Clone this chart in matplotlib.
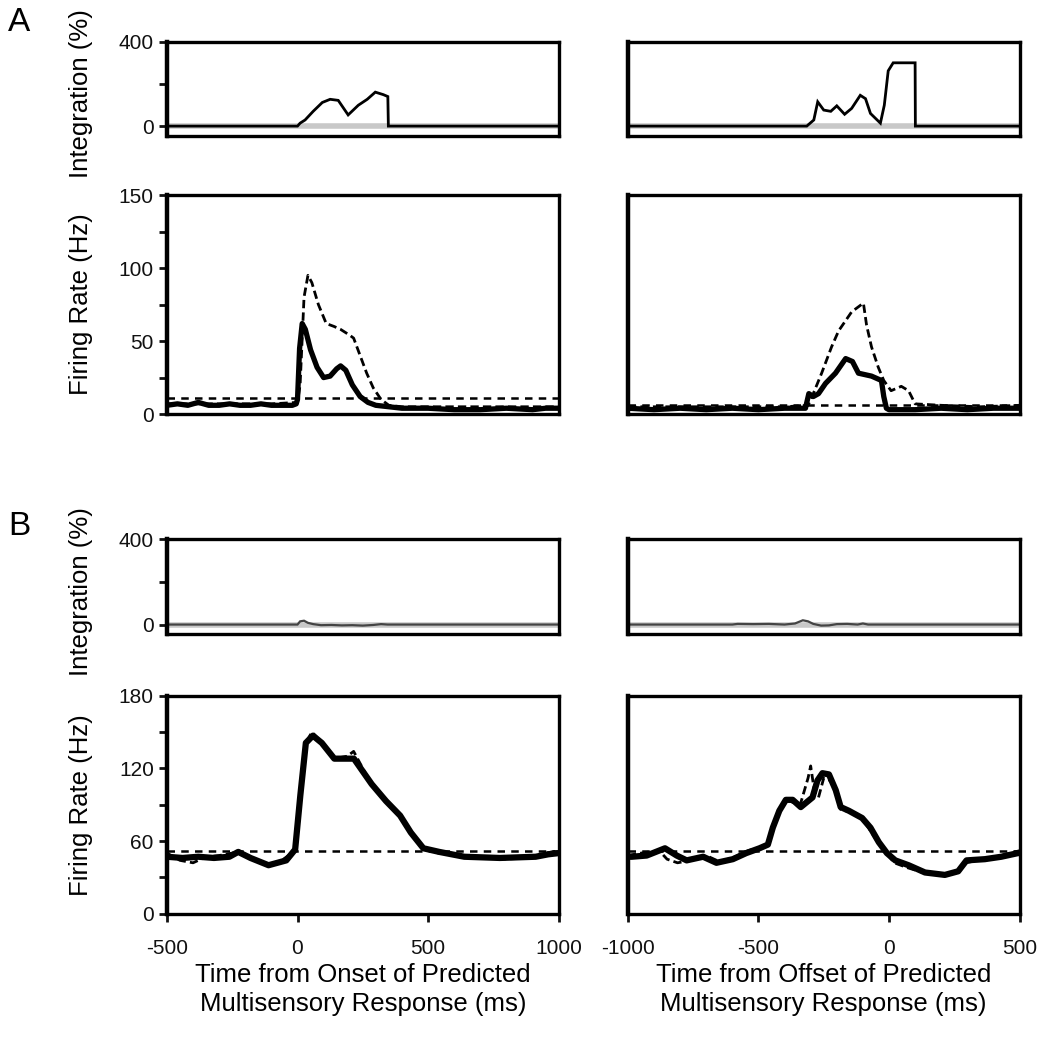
import matplotlib
matplotlib.use('Agg')
import matplotlib.pyplot as plt

plt.rcParams['font.family'] = ['Liberation Sans', 'DejaVu Sans']

# ---- data ----
# A, onset aligned (left column)
a_on_int_t = [-500, 0, 10, 29, 60, 95, 125, 156, 194, 233, 267, 298, 329, 346, 348, 1000]
a_on_int_v = [0, 0, 14, 29, 70, 112, 127, 122, 53, 99, 127, 161, 149, 140, 0, 0]

a_on_solid_t = [-500, -460, -420, -380, -340, -300, -260, -220, -180, -140, -100, -60, -20, -5, 0, 8,
                18, 30, 50, 75, 100, 125, 150, 165, 185, 210, 240, 270, 300, 350, 400, 500, 600,
                700, 800, 900, 950, 1000]
a_on_solid_v = [6, 7, 6, 8, 6, 6, 7, 6, 6, 7, 6, 6, 6, 7, 10, 45,
                62, 58, 44, 32, 25, 26, 31, 33, 30, 20, 12, 8, 6, 5, 4, 4, 3,
                3, 4, 3, 4, 4]
a_on_dash_t = [-500, -300, -100, 0, 10, 25, 40, 55, 80, 110, 140, 165, 200, 215, 240, 265,
               290, 320, 350, 400, 600, 800, 1000]
a_on_dash_v = [7, 7, 7, 8, 20, 80, 95, 90, 75, 62, 60, 58, 54, 52, 40, 28,
               18, 10, 6, 5, 5, 5, 5]
a_on_crit = 11

# A, offset aligned (right column)
a_off_int_t = [-1000, -315, -288, -273, -250, -223, -200, -170, -143, -110, -90, -71, -52, -33,
               -18, -3, 16, 100, 101, 500]
a_off_int_v = [0, 0, 29, 115, 76, 70, 96, 56, 84, 146, 130, 60, 37, 14,
               99, 262, 300, 300, 0, 0]

a_off_solid_t = [-1000, -900, -800, -700, -600, -500, -400, -320, -307, -290, -270, -243, -205,
                 -166, -140, -117, -67, -29, -20, -10, 0, 100, 200, 300, 400, 500]
a_off_solid_v = [4, 3, 4, 3, 4, 3, 4, 4, 14, 12, 14, 21, 28,
                 38, 36, 28, 26, 23, 12, 4, 3, 3, 4, 3, 4, 4]
a_off_dash_t = [-1000, -800, -600, -400, -310, -290, -258, -220, -193, -143, -98, -86, -67,
                -41, -20, 8, 47, 75, 100, 200, 350, 500]
a_off_dash_v = [5, 5, 5, 5, 6, 14, 28, 46, 57, 70, 76, 61, 46,
                32, 23, 16, 19, 16, 7, 6, 5, 6]
a_off_crit = 6

# B, onset aligned
b_on_int_t = [-500, 0, 10, 25, 40, 60, 90, 130, 170, 210, 250, 290, 320, 345, 1000]
b_on_int_v = [0, 0, 15, 18, 8, 2, -3, -2, -4, -3, -5, -2, 2, 0, 0]

b_on_solid_t = [-500, -440, -380, -320, -261, -227, -180, -111, -43, -9, 11, 32, 59, 93, 141,
                216, 284, 339, 393, 434, 482, 543, 639, 775, 912, 960, 1000]
b_on_solid_v = [47, 46, 47, 46, 47, 51, 46, 40, 44, 53, 98, 141, 147, 141, 128,
                128, 107, 93, 81, 67, 54, 51, 47, 46, 47, 49, 50]
b_on_dash_t = [-500, -450, -400, -350, -300, -250, -225, -180, -120, -60, -10, 10, 30, 55, 90,
               140, 190, 215, 230, 285, 340, 395, 435, 480, 540, 640, 780, 900, 950, 1000]
b_on_dash_v = [50, 44, 42, 47, 48, 50, 52, 46, 40, 44, 52, 95, 140, 150, 142,
               128, 130, 134, 128, 106, 92, 80, 66, 54, 50, 48, 45, 46, 50, 52]
b_on_crit = 52

# B, offset aligned
b_off_int_t = [-1000, -600, -580, -520, -460, -400, -360, -330, -310, -290, -260, -230, -200,
               -160, -120, -100, -80, 500]
b_off_int_v = [0, 0, 3, 2, 3, 0, 5, 20, 15, 3, -5, -4, 2, 3, 0, 5, 0, 0]

b_off_solid_t = [-1000, -985, -928, -858, -813, -775, -712, -661, -598, -547, -496, -464, -445,
                 -420, -395, -369, -338, -293, -274, -255, -230, -204, -185, -154, -103, -71,
                 -39, -8, 24, 75, 138, 214, 265, 297, 367, 430, 494, 500]
b_off_solid_v = [47, 47, 48, 54, 48, 44, 47, 42, 45, 50, 54, 57, 71,
                 85, 94, 94, 88, 96, 110, 116, 115, 102, 88, 85, 79, 71,
                 59, 50, 44, 40, 34, 32, 35, 44, 45, 47, 50, 50]
b_off_dash_t = [-1000, -950, -880, -850, -810, -760, -700, -650, -600, -540, -490, -460, -440,
                -415, -395, -370, -340, -310, -300, -285, -270, -250, -225, -200, -185, -150,
                -100, -70, -40, -10, 20, 70, 130, 200, 260, 295, 360, 430, 500]
b_off_dash_v = [48, 50, 52, 45, 42, 44, 48, 43, 46, 52, 55, 60, 72,
                88, 95, 92, 90, 112, 122, 100, 96, 112, 110, 98, 86, 84,
                78, 68, 58, 50, 42, 38, 34, 32, 35, 42, 45, 48, 52]
b_off_crit = 52

onset_ticks = [-500, 0, 500, 1000]
offset_ticks = [-1000, -500, 0, 500]

fig = plt.figure(figsize=(10.5, 10.43), dpi=100)

lx, rx, w = 0.159, 0.598, 0.373
rows = {'a_int': (0.870, 0.090), 'a_fr': (0.603, 0.210),
        'b_int': (0.392, 0.091), 'b_fr': (0.124, 0.209)}


def style(ax, left_col, xticks):
    for s in ax.spines.values():
        s.set_linewidth(2.4)
        s.set_color('black')
    ax.spines['left'].set_linewidth(3.2)
    ax.tick_params(direction='out', length=6, width=2, labelsize=15, colors='#111111')
    if not left_col:
        ax.tick_params(left=False, labelleft=False)
    if xticks is None:
        ax.tick_params(bottom=False, labelbottom=False)
    else:
        ax.set_xticks(xticks)
        ax.set_xticklabels([str(x) for x in xticks])
        ax.tick_params(axis='x', pad=12)


def integ(ax, t, v, xlim, left_col, lw=2.0, col='black'):
    ax.plot(xlim, [0, 0], color='#c8c8c8', lw=4, zorder=1)
    ax.plot(t, v, color=col, lw=lw, zorder=2, solid_joinstyle='miter')
    ax.set_xlim(xlim)
    ax.set_ylim(-45, 400)
    ax.set_yticks([0, 200, 400])
    ax.set_yticklabels(['0', '', '400'])
    style(ax, left_col, None)


def firing(ax, st, sv, dt, dv, crit, xlim, ylim, yt, ytl, left_col, xticks, lw_s=3.8):
    ax.plot(xlim, [crit, crit], color='black', lw=1.8, ls=(0, (3, 2.5)), zorder=2)
    ax.plot(dt, dv, color='black', lw=2.0, ls=(0, (3, 1.5)), zorder=3)
    ax.plot(st, sv, color='black', lw=lw_s, zorder=4)
    ax.set_xlim(xlim)
    ax.set_ylim(ylim)
    ax.set_yticks(yt)
    ax.set_yticklabels(ytl)
    style(ax, left_col, xticks)


on_lim = [-500, 1000]
off_lim = [-1000, 500]
fr_a_t = [0, 25, 50, 75, 100, 125, 150]
fr_a_l = ['0', '', '50', '', '100', '', '150']
fr_b_t = [0, 30, 60, 90, 120, 150, 180]
fr_b_l = ['0', '', '60', '', '120', '', '180']

ax1 = fig.add_axes([lx, rows['a_int'][0], w, rows['a_int'][1]])
integ(ax1, a_on_int_t, a_on_int_v, on_lim, True)
ax2 = fig.add_axes([rx, rows['a_int'][0], w, rows['a_int'][1]])
integ(ax2, a_off_int_t, a_off_int_v, off_lim, False)

ax3 = fig.add_axes([lx, rows['a_fr'][0], w, rows['a_fr'][1]])
firing(ax3, a_on_solid_t, a_on_solid_v, a_on_dash_t, a_on_dash_v, a_on_crit, on_lim,
       (0, 150), fr_a_t, fr_a_l, True, None)
ax4 = fig.add_axes([rx, rows['a_fr'][0], w, rows['a_fr'][1]])
firing(ax4, a_off_solid_t, a_off_solid_v, a_off_dash_t, a_off_dash_v, a_off_crit, off_lim,
       (0, 150), fr_a_t, fr_a_l, False, None)

ax5 = fig.add_axes([lx, rows['b_int'][0], w, rows['b_int'][1]])
integ(ax5, b_on_int_t, b_on_int_v, on_lim, True, lw=1.6, col='#444444')
ax6 = fig.add_axes([rx, rows['b_int'][0], w, rows['b_int'][1]])
integ(ax6, b_off_int_t, b_off_int_v, off_lim, False, lw=1.6, col='#444444')

ax7 = fig.add_axes([lx, rows['b_fr'][0], w, rows['b_fr'][1]])
firing(ax7, b_on_solid_t, b_on_solid_v, b_on_dash_t, b_on_dash_v, b_on_crit, on_lim,
       (0, 180), fr_b_t, fr_b_l, True, onset_ticks, lw_s=4.5)
ax8 = fig.add_axes([rx, rows['b_fr'][0], w, rows['b_fr'][1]])
firing(ax8, b_off_solid_t, b_off_solid_v, b_off_dash_t, b_off_dash_v, b_off_crit, off_lim,
       (0, 180), fr_b_t, fr_b_l, False, offset_ticks, lw_s=4.5)

for ax in (ax1, ax5):
    ax.set_ylabel('Integration (%)', fontsize=18.5)
    ax.yaxis.set_label_coords(-0.19, 0.45)
for ax in (ax3, ax7):
    ax.set_ylabel('Firing Rate (Hz)', fontsize=18.5)
    ax.yaxis.set_label_coords(-0.19, 0.5)

ax7.set_xlabel('Time from Onset of Predicted\nMultisensory Response (ms)', fontsize=18.5,
               labelpad=4, linespacing=1.25)
ax8.set_xlabel('Time from Offset of Predicted\nMultisensory Response (ms)', fontsize=18.5,
               labelpad=4, linespacing=1.25)

fig.text(0.008, 0.978, 'A', fontsize=24, va='center', ha='left')
fig.text(0.008, 0.495, 'B', fontsize=24, va='center', ha='left')

fig.savefig('out.png', dpi=100)
